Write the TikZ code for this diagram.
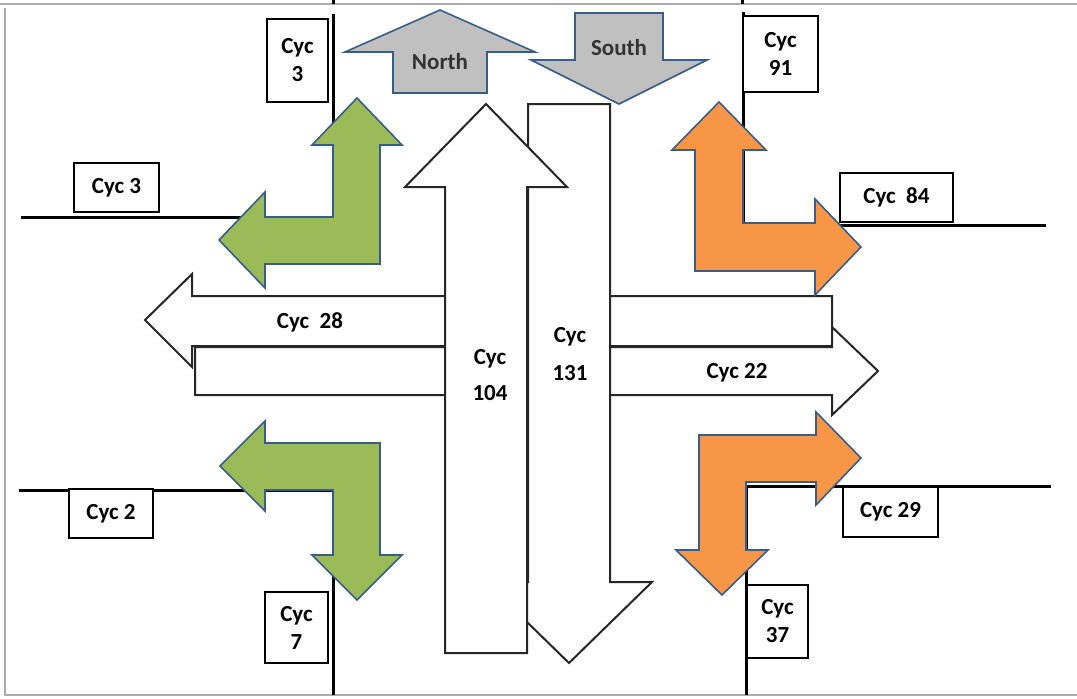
\documentclass[tikz,border=0pt]{standalone}
\usepackage{fontspec}
\setmainfont{Carlito}
\usepackage{tikz}

\definecolor{leafgreen}{RGB}{155,187,89}
\definecolor{tangerine}{RGB}{247,150,70}
\definecolor{edgeblue}{RGB}{56,93,138}
\definecolor{signgrey}{RGB}{192,192,192}
\definecolor{framegrey}{RGB}{170,170,170}

\newcommand\cycfont{\fontsize{11.5}{14}\selectfont\bfseries}
\tikzstyle{road}=[line width=1.5pt]
\tikzstyle{flow}=[draw=black!85, fill=white, line width=1pt]
\tikzstyle{sign}=[draw=edgeblue, fill=signgrey, line width=0.8pt]
\tikzstyle{turnleft}=[draw=edgeblue, fill=leafgreen, line width=0.8pt]
\tikzstyle{turnright}=[draw=edgeblue, fill=tangerine, line width=0.8pt]
\tikzstyle{cycbox}=[draw, fill=white, line width=1pt, inner sep=0pt, align=center, font=\cycfont]
\tikzstyle{cyctext}=[inner sep=0pt, align=center, font=\cycfont]

\begin{document}
\begin{tikzpicture}[x=0.5pt,y=-0.5pt]
        \useasboundingbox (0,0) rectangle (1077,698);
        % frame
        \draw[framegrey, line width=1.2pt] (0,4) -- (1077,4);
        \draw[framegrey, line width=1.2pt] (5,8) -- (5,695) -- (1077,695);

        % roads
        \draw[road] (333,0) -- (333,4);
        \draw[road] (742,0) -- (742,4);
        \coordinate (tlA) at (333,14);
        \coordinate (tlB) at (333,217);
        \coordinate (tlC) at (21,217);
        \draw[road] (tlA) -- (tlB) -- (tlC);
        \coordinate (blA) at (19,490);
        \coordinate (blB) at (333,490);
        \coordinate (blC) at (333,695);
        \draw[road] (blA) -- (blB) -- (blC);
        \coordinate (trA) at (743,12);
        \coordinate (trB) at (743,225);
        \coordinate (trC) at (1046,225);
        \draw[road] (trA) -- (trB) -- (trC);
        \coordinate (brA) at (1051,486);
        \coordinate (brB) at (746,486);
        \coordinate (brC) at (746,695);
        \draw[road] (brA) -- (brB) -- (brC);

        % through traffic
        \draw[flow] (145,320) -- (192,274) -- (192,296) -- (832,296) -- (832,346) -- (192,346) -- (192,367) -- cycle;
        \draw[flow] (195,347) -- (832,347) -- (832,327) -- (878,371) -- (832,415) -- (832,395) -- (195,395) -- cycle;
        \draw[flow] (528,104) -- (610,104) -- (610,582) -- (652,582) -- (569,663) -- (486,582) -- (528,582) -- cycle;
        \draw[flow] (486,104) -- (567,187) -- (527,187) -- (527,653) -- (445,653) -- (445,187) -- (405,187) -- cycle;

        % compass
        \draw[sign] (440,10) -- (535,52) -- (487,52) -- (487,93) -- (393,93) -- (393,52) -- (345,52) -- cycle;
        \draw[sign] (575,13) -- (663,13) -- (663,60) -- (707,60) -- (619,104) -- (531,60) -- (575,60) -- cycle;
        \node[cyctext, text=black!80] (north) at (440,62) {North};
        \node[cyctext, text=black!80] (south) at (619,48) {South};

        % turning traffic
        \draw[turnleft] (357,98) -- (402,145) -- (380,145) -- (380,264) -- (265,264) -- (265,288) -- (219,240) -- (265,192) -- (265,217) -- (333,217) -- (333,145) -- (312,145) -- cycle;
        \draw[turnleft] (220,466) -- (265,421) -- (265,443) -- (380,443) -- (380,555) -- (402,555) -- (357,600) -- (312,555) -- (333,555) -- (333,490) -- (265,490) -- (265,511) -- cycle;
        \draw[turnright] (719,102) -- (766,150) -- (743,150) -- (743,223) -- (815,223) -- (815,199) -- (861,247) -- (815,295) -- (815,271) -- (695,271) -- (695,150) -- (672,150) -- cycle;
        \draw[turnright] (699,435) -- (816,435) -- (816,412) -- (861,458) -- (816,505) -- (816,482) -- (746,482) -- (746,550) -- (768,550) -- (722,595) -- (676,550) -- (699,550) -- cycle;

        % counts
        \node[cyctext] (c28) at (310,322) {Cyc\ \ 28};
        \node[cyctext] (c22) at (737,373) {Cyc 22};
        \node[cyctext, font=\fontsize{11.5}{18}\selectfont\bfseries] (c104) at (490,375) {Cyc\\104};
        \node[cyctext, font=\fontsize{11.5}{19}\selectfont\bfseries] (c131) at (570,354) {Cyc\\131};

        \node[cycbox, minimum width=30.5pt, minimum height=41.5pt] (c3n) at (297.5,60.5) {Cyc\\3};
        \node[cycbox, minimum width=42.5pt, minimum height=24.5pt] (c3w) at (116.5,187.5) {Cyc 3};
        \node[cycbox, minimum width=42pt, minimum height=24.5pt] (c2) at (111,513.5) {Cyc 2};
        \node[cycbox, minimum width=31.5pt, minimum height=35.5pt] (c7) at (296.5,627.5) {Cyc\\7};
        \node[cycbox, minimum width=37.5pt, minimum height=38pt] (c91) at (780.5,54) {Cyc\\91};
        \node[cycbox, minimum width=56.5pt, minimum height=24.5pt] (c84) at (896.5,197.5) {Cyc\ \ 84};
        \node[cycbox, minimum width=47.5pt, minimum height=25pt] (c29) at (890.5,512) {Cyc 29};
        \node[cycbox, minimum width=30.5pt, minimum height=36.5pt] (c37) at (777.5,621.5) {Cyc\\37};
\end{tikzpicture}
\end{document}
